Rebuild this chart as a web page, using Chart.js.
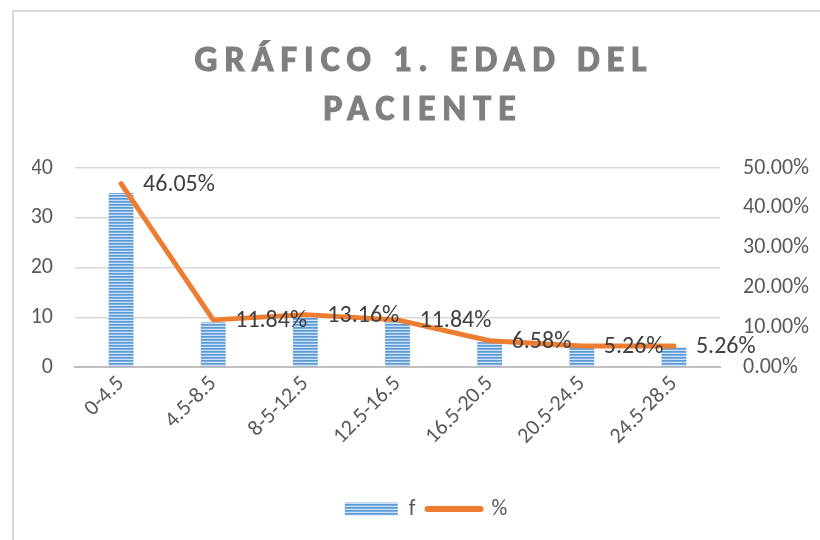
<!DOCTYPE html>
<html>
<head>
<meta charset="utf-8">
<script src="https://cdn.jsdelivr.net/npm/chart.js@4.4.0/dist/chart.umd.min.js"></script>
<style>
    html, body { margin: 0; padding: 0; background: #fff; overflow: hidden; }
    #wrap { position: relative; width: 820px; height: 540px; }
    #frame { position: absolute; left: 12px; top: 10px; width: 900px; height: 600px; border: 2px solid #d9d9d9; box-sizing: border-box; }
    canvas { position: absolute; left: 0; top: 0; }
</style>
</head>
<body>
<div id="wrap">
    <div id="frame"></div>
    <canvas id="edadChart" width="820" height="540"></canvas>
</div>
<script>
const categories = ['0-4.5', '4.5-8.5', '8-5-12.5', '12.5-16.5', '16.5-20.5', '20.5-24.5', '24.5-28.5'];
const frequencies = [35, 9, 10, 9, 5, 4, 4];
const percentages = [46.05, 11.84, 13.16, 11.84, 6.58, 5.26, 5.26];
const titleLines = ['GRÁFICO 1. EDAD DEL', 'PACIENTE'];
const seriesNames = ['f', '%'];

const FONT = 'Carlito, Lato, "Open Sans", sans-serif';

// horizontal striped fill like the Excel pattern
function stripePattern(ctx) {
    const c = document.createElement('canvas');
    c.width = 6;
    c.height = 3;
    const p = c.getContext('2d');
    p.fillStyle = '#5b9bd5';
    p.fillRect(0, 0, 6, 1);
    p.fillStyle = '#7eaee0';
    p.fillRect(0, 1, 6, 1);
    p.fillStyle = '#cfe1f4';
    p.fillRect(0, 2, 6, 1);
    return ctx.createPattern(c, 'repeat');
}

const titlePlugin = {
    id: 'spacedTitle',
    afterDraw(chart) {
        const ctx = chart.ctx;
        ctx.save();
        ctx.font = 'bold 36px ' + FONT;
        ctx.fillStyle = '#7f7f7f';
        ctx.strokeStyle = '#7f7f7f';
        ctx.lineWidth = 1.1;
        ctx.textAlign = 'center';
        ctx.textBaseline = 'alphabetic';
        ctx.letterSpacing = '7px';
        ctx.fillText(titleLines[0], 424, 71);
        ctx.strokeText(titleLines[0], 424, 71);
        ctx.fillText(titleLines[1], 423, 120);
        ctx.strokeText(titleLines[1], 423, 120);
        ctx.restore();
    }
};

const pointLabels = {
    id: 'pointLabels',
    afterDatasetsDraw(chart) {
        const meta = chart.getDatasetMeta(1);
        const ctx = chart.ctx;
        ctx.save();
        ctx.font = '24px ' + FONT;
        ctx.fillStyle = '#404040';
        ctx.textAlign = 'left';
        ctx.textBaseline = 'middle';
        meta.data.forEach((pt, i) => {
            ctx.fillText(percentages[i].toFixed(2) + '%', pt.x + 22, pt.y + 1);
        });
        ctx.restore();
    }
};

const ctx = document.getElementById('edadChart').getContext('2d');
const barFill = stripePattern(ctx);
const tickFont = { family: FONT, size: 22 };

new Chart(ctx, {
    type: 'bar',
    data: {
        labels: categories,
        datasets: [
            {
                type: 'bar',
                label: seriesNames[0],
                data: frequencies,
                backgroundColor: barFill,
                borderWidth: 0,
                barPercentage: 0.27,
                categoryPercentage: 1,
                yAxisID: 'y',
                order: 2
            },
            {
                type: 'line',
                label: seriesNames[1],
                data: percentages,
                borderColor: '#ed7d31',
                backgroundColor: '#ed7d31',
                borderWidth: 5,
                borderCapStyle: 'round',
                borderJoinStyle: 'round',
                pointRadius: 0,
                tension: 0,
                yAxisID: 'y1',
                order: 1
            }
        ]
    },
    options: {
        responsive: false,
        animation: false,
        layout: { padding: { top: 168, bottom: 10, left: 32 } },
        plugins: {
            tooltip: { enabled: false },
            title: { display: false },
            legend: {
                position: 'bottom',
                labels: {
                    color: '#595959',
                    font: tickFont,
                    usePointStyle: true,
                    pointStyleWidth: 53,
                    boxHeight: 13,
                    padding: 12,
                    sort: (a, b) => a.datasetIndex - b.datasetIndex,
                    generateLabels(chart) {
                        const items = Chart.defaults.plugins.legend.labels.generateLabels(chart);
                        items.forEach(item => {
                            if (item.datasetIndex === 0) {
                                item.pointStyle = 'rect';
                                item.fillStyle = barFill;
                                item.lineWidth = 0;
                            } else {
                                item.pointStyle = 'line';
                                item.strokeStyle = '#ed7d31';
                                item.lineWidth = 6;
                                item.lineCap = 'round';
                            }
                        });
                        return items;
                    }
                }
            }
        },
        scales: {
            x: {
                grid: { display: false, drawTicks: false },
                border: { display: true, color: '#bfbfbf', width: 2 },
                ticks: {
                    color: '#595959',
                    font: tickFont,
                    minRotation: 45,
                    maxRotation: 45,
                    padding: 4
                },
                afterFit(scale) { scale.height = 119; }
            },
            y: {
                position: 'left',
                min: 0,
                max: 40,
                grid: { color: '#d9d9d9', lineWidth: 1.5, drawTicks: false },
                border: { display: false },
                ticks: {
                    stepSize: 10,
                    color: '#595959',
                    font: tickFont,
                    padding: 22
                },
                afterFit(scale) { scale.width = 43; }
            },
            y1: {
                position: 'right',
                min: 0,
                max: 50,
                grid: { drawOnChartArea: false, drawTicks: false },
                border: { display: false },
                ticks: {
                    stepSize: 10,
                    color: '#595959',
                    font: tickFont,
                    padding: 23,
                    callback: v => v.toFixed(2) + '%'
                },
                afterFit(scale) { scale.width = 100; }
            }
        }
    },
    plugins: [titlePlugin, pointLabels]
});
</script>
</body>
</html>
